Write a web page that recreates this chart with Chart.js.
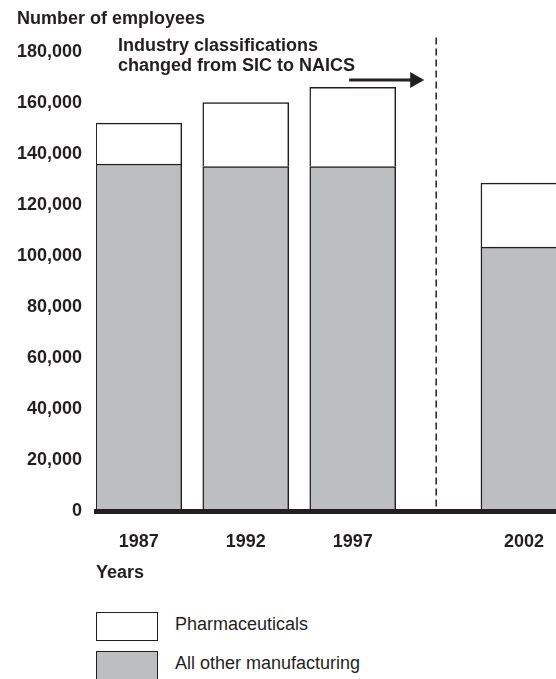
<!DOCTYPE html>
<html>
<head>
<meta charset="utf-8">
<title>Number of employees, pharmaceuticals and all other manufacturing</title>
<script src="https://cdn.jsdelivr.net/npm/chart.js@4.4.0/dist/chart.umd.min.js"></script>
<style>
    body { margin: 0; background: #fff; font-family: 'Liberation Sans', Arial, Helvetica, sans-serif; color: #231f20; }
    #wrap { position: relative; width: 556px; height: 679px; overflow: hidden; }
    #legend { position: absolute; left: 96px; top: 611px; }
    .item { display: flex; align-items: center; height: 30px; margin-bottom: 9px; font-size: 18px; }
    .item span:last-child { position: relative; top: -2px; }
    .box { width: 60px; height: 27px; border: 1.5px solid #231f20; margin-right: 17px; }
</style>
</head>
<body>
<div id="wrap">
    <canvas id="myChart" width="556" height="600"></canvas>
    <div id="legend"></div>
</div>
<script>
var years = ['1987', '1992', '1997', '2002'];
var otherMfg = [136000, 135000, 135000, 103500];
var pharma = [16000, 25000, 31000, 25000];
var yTicks = [0, 20000, 40000, 60000, 80000, 100000, 120000, 140000, 160000, 180000];
var note = ['Industry classifications', 'changed from SIC to NAICS'];

var lastSIC = 1997;   // last year under SIC
var naicsGap = 3;     // extra room on the axis after the switch to NAICS
var breakAt = 2000.9; // where the dashed line goes
var ink = '#231f20';
var font = "'Liberation Sans', Arial, Helvetica, sans-serif";

// year -> position on the x axis (with the gap after the break)
function xPos(y) {
    y = parseInt(y);
    return y > lastSIC ? y + naicsGap : y;
}

function points(values) {
    return years.map(function (y, i) { return { x: xPos(y), y: values[i] }; });
}

var notePlugin = {
    id: 'note',
    afterDraw: function (chart) {
        var ctx = chart.ctx;
        var area = chart.chartArea;
        var bx = chart.scales.x.getPixelForValue(breakAt);
        ctx.save();

        // dashed break line
        ctx.strokeStyle = ink;
        ctx.lineWidth = 1.5;
        ctx.setLineDash([7, 4]);
        ctx.beginPath();
        ctx.moveTo(bx, area.top - 14);
        ctx.lineTo(bx, area.bottom);
        ctx.stroke();
        ctx.setLineDash([]);

        // note text
        ctx.fillStyle = ink;
        ctx.font = 'bold 18px ' + font;
        ctx.textAlign = 'left';
        ctx.textBaseline = 'alphabetic';
        ctx.fillText(note[0], area.left + 22, 51);
        ctx.fillText(note[1], area.left + 22, 70.5);

        // arrow
        var ay = 80;
        ctx.lineWidth = 3;
        ctx.beginPath();
        ctx.moveTo(bx - 87, ay);
        ctx.lineTo(bx - 25, ay);
        ctx.stroke();
        ctx.beginPath();
        ctx.moveTo(bx - 26, ay - 8);
        ctx.lineTo(bx - 12, ay);
        ctx.lineTo(bx - 26, ay + 8);
        ctx.closePath();
        ctx.fill();
        ctx.restore();
    }
};

var ctx = document.getElementById('myChart').getContext('2d');
var chart = new Chart(ctx, {
    type: 'bar',
    data: {
        datasets: [
            {
                label: 'All other manufacturing',
                data: points(otherMfg),
                backgroundColor: '#bcbec0',
                borderColor: ink,
                borderWidth: 1.5,
                barThickness: 86
            },
            {
                label: 'Pharmaceuticals',
                data: points(pharma),
                backgroundColor: '#ffffff',
                borderColor: ink,
                borderWidth: 1.5,
                barThickness: 86
            }
        ]
    },
    options: {
        responsive: false,
        animation: false,
        layout: { padding: { left: 17, right: 0, top: 0, bottom: 0 } },
        plugins: {
            legend: { display: false },
            tooltip: { enabled: false },
            title: {
                display: true,
                text: 'Number of employees',
                align: 'start',
                color: ink,
                font: { family: font, size: 18, weight: 'bold' },
                padding: { top: 8, bottom: 22 }
            }
        },
        scales: {
            x: {
                type: 'linear',
                stacked: true,
                offset: false,
                min: 1985,
                max: 2006.5,
                grid: { display: false, drawTicks: false },
                border: { display: true, color: ink, width: 5, z: 1 },
                afterBuildTicks: function (scale) {
                    scale.ticks = years.map(function (y) { return { value: xPos(y) }; });
                },
                afterFit: function (scale) {
                    scale.height = 88.5;
                    scale.paddingLeft = 0;
                    scale.paddingRight = 0;
                },
                ticks: {
                    autoSkip: false,
                    maxRotation: 0,
                    padding: 20,
                    color: ink,
                    font: { family: font, size: 18, weight: 'bold' },
                    callback: function (value, index) { return years[index]; }
                },
                title: {
                    display: true,
                    text: 'Years',
                    align: 'start',
                    color: ink,
                    font: { family: font, size: 18, weight: 'bold' },
                    padding: { top: 0, bottom: 16 }
                }
            },
            y: {
                stacked: true,
                min: 0,
                max: 180000,
                grid: { display: false, drawTicks: false },
                border: { display: false },
                afterBuildTicks: function (scale) {
                    scale.ticks = yTicks.map(function (v) { return { value: v }; });
                },
                afterFit: function (scale) { scale.width = 79; },
                ticks: {
                    padding: 14,
                    color: ink,
                    font: { family: font, size: 18, weight: 'bold' },
                    callback: function (value) { return value.toLocaleString('en-US'); }
                }
            }
        }
    },
    plugins: [notePlugin]
});

// legend, top entry is the top of the stack
var legend = document.getElementById('legend');
chart.data.datasets.slice().reverse().forEach(function (ds) {
    var item = document.createElement('div');
    item.className = 'item';
    var box = document.createElement('span');
    box.className = 'box';
    box.style.background = ds.backgroundColor;
    var label = document.createElement('span');
    label.textContent = ds.label;
    item.appendChild(box);
    item.appendChild(label);
    legend.appendChild(item);
});
</script>
</body>
</html>
